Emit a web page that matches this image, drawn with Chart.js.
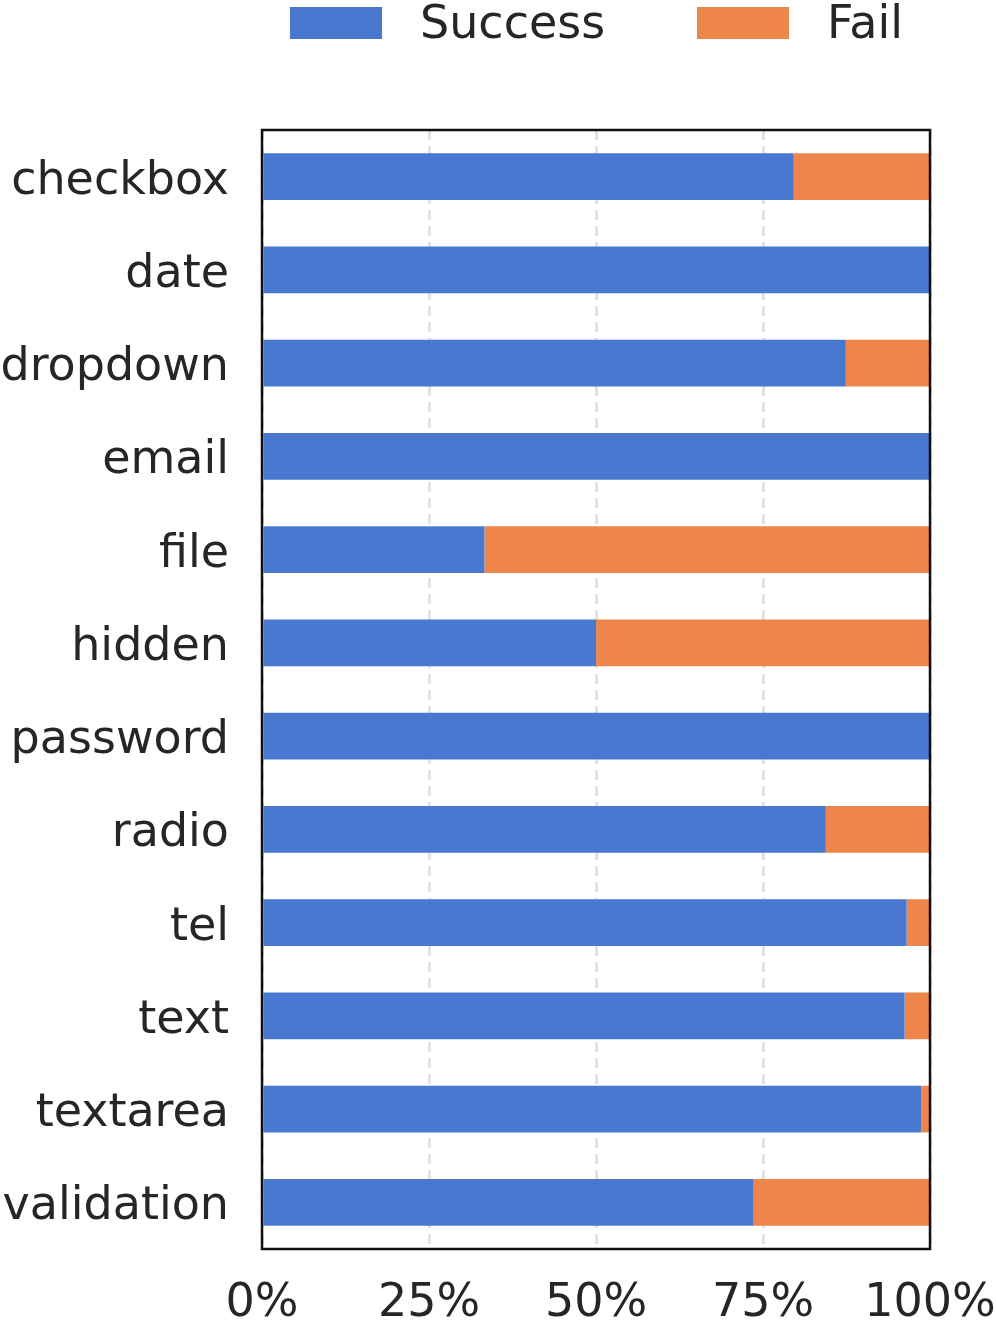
<!DOCTYPE html>
<html>
<head>
<meta charset="utf-8">
<script src="https://cdn.jsdelivr.net/npm/chart.js@4.4.1/dist/chart.umd.min.js"></script>
<style>
  html, body { margin: 0; padding: 0; background: #fff; }
  canvas { display: block; }
</style>
</head>
<body>
<canvas id="chart" width="996" height="1329"></canvas>
<script>
// data (percent of runs)
const categories = ["checkbox", "date", "dropdown", "email", "file", "hidden",
  "password", "radio", "tel", "text", "textarea", "validation"];
const successPct = [79.6, 100, 87.4, 100, 33.3, 50, 100, 84.4, 96.5, 96.2, 98.7, 73.6];
const failPct = [20.4, 0, 12.6, 0, 66.7, 50, 0, 15.6, 3.5, 3.8, 1.3, 26.4];
const xTicks = [0, 25, 50, 75, 100];

const seriesNames = ["Success", "Fail"];
const seriesColors = ["#4878D0", "#EE854A"];

const textColor = "#262626";
const fontFamily = "'DejaVu Sans', sans-serif";

// legend drawn by hand so that box / text spacing matches
const legendPlugin = {
  id: "topLegend",
  afterDraw(chart) {
    const ctx = chart.ctx;
    const items = [{ x: 290 }, { x: 697 }];
    ctx.save();
    ctx.font = "46px " + fontFamily;
    ctx.textBaseline = "middle";
    chart.data.datasets.forEach((ds, i) => {
      ctx.fillStyle = ds.backgroundColor;
      ctx.fillRect(items[i].x, 7, 92, 32);
      ctx.fillStyle = textColor;
      ctx.fillText(ds.label, items[i].x + 130, 26);
    });
    ctx.restore();
  }
};

// black frame round the plot area
const framePlugin = {
  id: "frame",
  afterDraw(chart) {
    const a = chart.chartArea;
    const ctx = chart.ctx;
    ctx.save();
    ctx.strokeStyle = "#111";
    ctx.lineWidth = 2.5;
    ctx.strokeRect(a.left, a.top, a.right - a.left, a.bottom - a.top);
    ctx.restore();
  }
};

const ctx = document.getElementById("chart").getContext("2d");
new Chart(ctx, {
  type: "bar",
  data: {
    labels: categories,
    datasets: [
      { label: seriesNames[0], data: successPct, backgroundColor: seriesColors[0] },
      { label: seriesNames[1], data: failPct, backgroundColor: seriesColors[1] }
    ]
  },
  options: {
    indexAxis: "y",
    responsive: false,
    animation: false,
    devicePixelRatio: 1,
    layout: { padding: { top: 130, right: 66, left: 0, bottom: 0 } },
    datasets: {
      bar: { barPercentage: 0.5, categoryPercentage: 1, borderWidth: 0 }
    },
    plugins: {
      legend: { display: false },
      tooltip: { enabled: false }
    },
    scales: {
      x: {
        stacked: true,
        min: 0,
        max: 100,
        afterBuildTicks: (scale) => { scale.ticks = xTicks.map(v => ({ value: v })); },
        afterFit: (scale) => {
          scale.height = 80;
          scale.paddingLeft = 0;
          scale.paddingRight = 0;
        },
        border: { display: false, dash: [10, 6] },
        grid: {
          color: "#e2e2e2",
          lineWidth: 3,
          drawTicks: false
        },
        ticks: {
          color: textColor,
          font: { family: fontFamily, size: 46 },
          padding: 27,
          maxRotation: 0,
          callback: (v) => v + "%"
        }
      },
      y: {
        stacked: true,
        afterFit: (scale) => { scale.width = 262; },
        border: { display: false },
        grid: { display: false, drawTicks: false },
        ticks: {
          color: textColor,
          font: { family: fontFamily, size: 46 },
          padding: 33,
          labelOffset: 5
        }
      }
    }
  },
  plugins: [legendPlugin, framePlugin]
});
</script>
</body>
</html>
